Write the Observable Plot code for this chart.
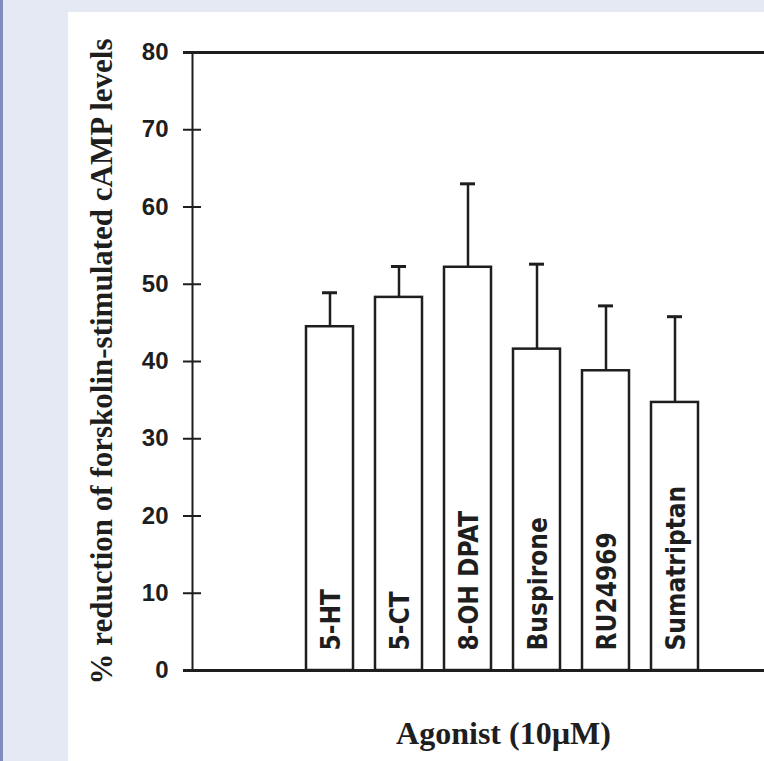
<!DOCTYPE html>
<html><head><meta charset="utf-8">
<script src="https://cdn.jsdelivr.net/npm/d3@7"></script>
<script src="https://cdn.jsdelivr.net/npm/@observablehq/plot@0.6"></script>
<style>
html,body{margin:0;padding:0;}
body{width:764px;height:761px;background:#e5e9f3;position:relative;overflow:hidden;}
#strip{position:absolute;left:0;top:0;width:3px;height:761px;background:#7f8bbd;}
#panel{position:absolute;left:68px;top:12px;width:696px;height:749px;background:#fff;}
</style></head><body><div id="strip"></div><div id="panel"></div>
<script>
const agonists = ["5-HT", "5-CT", "8-OH DPAT", "Buspirone", "RU24969", "Sumatriptan"];
const reduction = [44.5, 48.3, 52.2, 41.6, 38.8, 34.7];
const sem = [4.4, 4.0, 10.8, 11.0, 8.4, 11.1];
const yTicks = [0, 10, 20, 30, 40, 50, 60, 70, 80];
const yTitle = "% reduction of forskolin-stimulated cAMP levels";
const xTitle = "Agonist (10µM)";

const data = agonists.map((a, i) => ({agonist: a, mean: reduction[i], top: reduction[i] + sem[i]}));
const ink = "#1e1e1e";
const W = 696, H = 749, ML = 124, MT = 40, MB = 91, MR = 0;

const chart = Plot.plot({
  width: W, height: H,
  marginLeft: ML, marginTop: MT, marginBottom: MB, marginRight: MR,
  style: {background: "white", color: ink},
  x: {domain: agonists, insetLeft: 102, insetRight: 54, paddingInner: 0.323, paddingOuter: 0.16, axis: null},
  y: {domain: [0, 80], axis: null},
  marks: [
    Plot.ruleX(data, {x: "agonist", y1: "mean", y2: "top", stroke: ink, strokeWidth: 2.5}),
    Plot.tickY(data, {x: "agonist", y: "top", insetLeft: 16, insetRight: 16, stroke: ink, strokeWidth: 3}),
    Plot.barY(data, {x: "agonist", y: "mean", fill: "white", stroke: ink, strokeWidth: 2.5}),
    Plot.text(data, {x: "agonist", y: 0, text: "agonist", rotate: -90, textAnchor: "start", dy: -20, dx: 2,
      fontSize: 26, fontFamily: "'Liberation Sans Narrow', 'DejaVu Sans Condensed', sans-serif", fontWeight: "bold", fill: ink}),
    Plot.frame({anchor: "left", stroke: ink, strokeWidth: 2}),
    Plot.ruleY([0, 80], {insetLeft: -9, stroke: ink, strokeWidth: 3}),
    Plot.ruleY(yTicks, {insetLeft: -9, insetRight: W - ML - MR - 9, stroke: ink, strokeWidth: 2}),
    Plot.axisY({ticks: yTicks, tickSize: 0, tickPadding: 24, label: null, fontSize: 24, fontWeight: "bold",
      fontFamily: "'Liberation Sans', Arial, sans-serif", fill: ink}),
    Plot.text([yTitle], {frameAnchor: "left", rotate: -90, dx: -90, fontSize: 31, lineAnchor: "middle", textAnchor: "middle",
      fontFamily: "'Liberation Serif', serif", fontWeight: "bold", fill: ink}),
    Plot.text([xTitle], {frameAnchor: "bottom", dx: 25, dy: 63, lineAnchor: "middle", fontSize: 32,
      fontFamily: "'Liberation Serif', serif", fontWeight: "bold", fill: ink})
  ]
});
document.getElementById("panel").appendChild(chart);
</script>
</body></html>
